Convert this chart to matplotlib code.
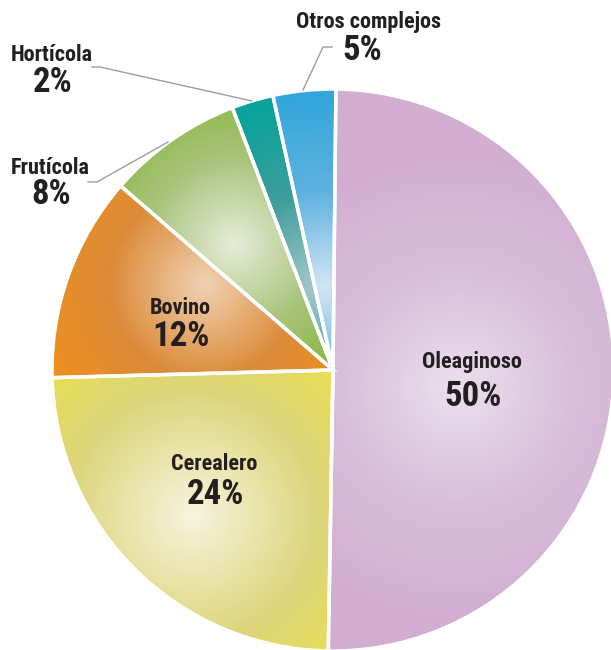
import numpy as np
import matplotlib
matplotlib.use("Agg")
import matplotlib.pyplot as plt
from matplotlib.colors import to_rgb
from matplotlib import font_manager as fm

# data
complejos = ["Oleaginoso", "Cerealero", "Bovino", "Frutícola", "Hortícola", "Otros complejos"]
shares = [50.1, 24.3, 11.8, 7.8, 2.4, 3.6]          # wedge sizes
pct_labels = ["50%", "24%", "12%", "8%", "2%", "5%"]  # printed percentages

# colour stops per wedge: highlight -> middle -> rim
stops = [
    ("#ebdfee", "#d9bfdb", "#d2aed1"),
    ("#f7f4de", "#ddd57b", "#f0e43a"),
    ("#f0d2b4", "#db8b38", "#f2901a"),
    ("#e6ecd9", "#a9c47c", "#86b338"),
    ("#a8c9ca", "#3e9d9c", "#08a39a"),
    ("#d3e5f4", "#5fb2df", "#33a7dc"),
]
# highlight position (angle deg, fraction of radius) and spread in px
glow = [(-8, 0.45, 230), (226, 0.72, 250), (146, 0.55, 190),
        (128, 0.57, 170), (100, 0.30, 190), (96, 0.30, 190)]

W, H = 611, 650
cx, cy, R = 333, H - 370, 281

fig = plt.figure(figsize=(W / 100, H / 100), dpi=100)
ax = fig.add_axes([0, 0, 1, 1])

wedges, _ = ax.pie(shares, startangle=89.4, counterclock=False,
                   center=(cx, cy), radius=R, colors=[s[2] for s in stops],
                   wedgeprops=dict(edgecolor="white", linewidth=2.5))

# radial gradient fill for each wedge
n = 600
xs = np.linspace(cx - R, cx + R, n)
ys = np.linspace(cy - R, cy + R, n)
gx, gy = np.meshgrid(xs, ys)
for w, st, (ang, frac, spread) in zip(wedges, stops, glow):
    hx = cx + frac * R * np.cos(np.radians(ang))
    hy = cy + frac * R * np.sin(np.radians(ang))
    t = np.clip(np.hypot(gx - hx, gy - hy) / spread, 0, 1)
    c0, c1, c2 = [np.array(to_rgb(c)) for c in st]
    a = np.clip(t / 0.5, 0, 1)[..., None]
    b = np.clip((t - 0.5) / 0.5, 0, 1)[..., None]
    img = np.where(t[..., None] < 0.5, c0 + (c1 - c0) * a, c1 + (c2 - c1) * b)
    im = ax.imshow(img, extent=[cx - R, cx + R, cy - R, cy + R], origin="lower",
                   zorder=1, interpolation="bilinear")
    im.set_clip_path(w)
    w.set_facecolor("none")
    w.set_zorder(2)

# pick a condensed bold face if one is installed
names = {f.name for f in fm.fontManager.ttflist}
cond = [f for f in ["Liberation Sans Narrow", "Roboto Condensed", "Open Sans Condensed",
                    "DejaVu Sans Condensed"] if f in names]
font = cond[:1] + ["DejaVu Sans"]
dark = "#231f20"
tk = dict(ha="center", va="center", fontweight="bold", family=font,
          fontstretch="condensed", color=dark, zorder=5)
ns, ps = (16, 25) if cond else (13, 20)


def label(x, y, name, pct, gap=29):
    ax.text(x, H - y, name, fontsize=ns, **tk)
    ax.text(x + 1, H - y - gap, pct, fontsize=ps, **tk)


label(472, 362, complejos[0], pct_labels[0], gap=34)
label(214, 464, complejos[1], pct_labels[1], gap=31)
label(180, 308, complejos[2], pct_labels[2], gap=29)
label(50, 168, complejos[3], pct_labels[3], gap=26)
label(52, 55, complejos[4], pct_labels[4], gap=27)
ax.text(369, H - 22, complejos[5], fontsize=ns, **tk)
ax.text(362, H - 50, pct_labels[5], fontsize=ps, **tk)

# leader lines
lc = "#9d9d9d"
ax.plot([332, 323, 303], [H - 47, H - 47, H - 90], color=lc, lw=1, zorder=4)
ax.plot([92, 100, 252], [H - 67, H - 67, H - 101], color=lc, lw=1, zorder=4)
ax.plot([88, 97, 168], [H - 182, H - 182, H - 142], color=lc, lw=1, zorder=4)

ax.set_xlim(0, W)
ax.set_ylim(0, H)
ax.set_aspect("equal")
ax.axis("off")

fig.savefig("out.png", dpi=100)
